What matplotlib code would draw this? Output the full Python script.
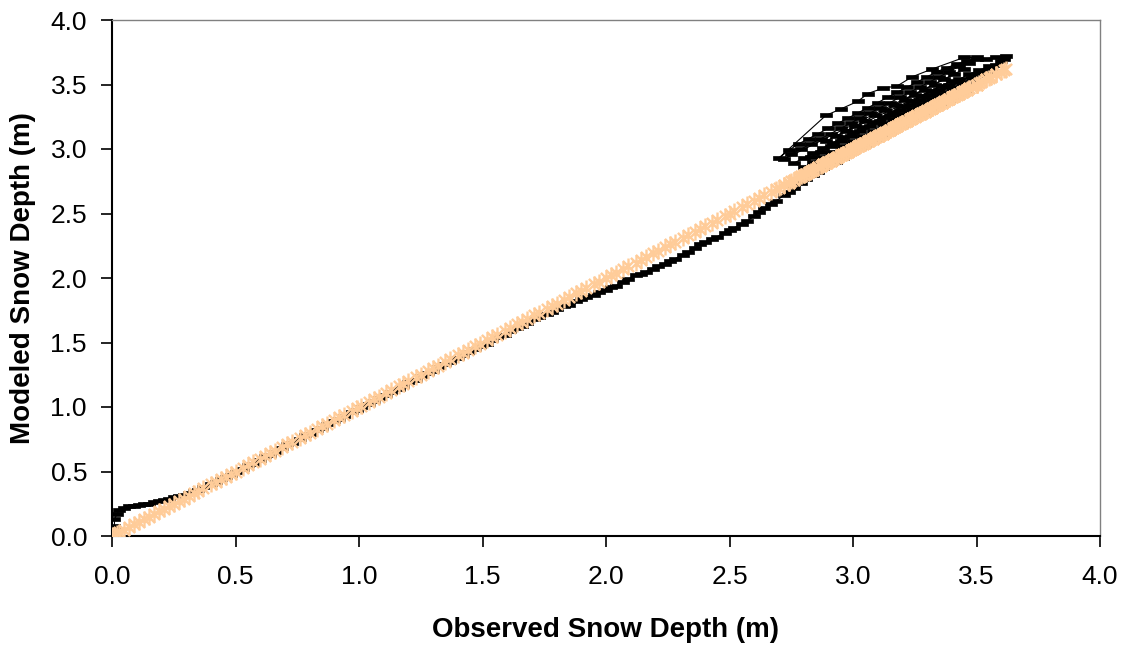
import matplotlib
matplotlib.use("Agg")
import matplotlib.pyplot as plt
from matplotlib.path import Path

plt.rcParams['font.family'] = ['Liberation Sans', 'DejaVu Sans']

# Observed snow depth (m) -- accumulation phase
obs_acc = [0.00, 0.01, 0.01, 0.02, 0.03, 0.05, 0.07, 0.09, 0.11, 0.13, 0.15, 0.17, 0.19, 0.21, 0.23,
           0.25, 0.27, 0.29, 0.31, 0.33, 0.35, 0.37, 0.40, 0.42, 0.44, 0.46, 0.48, 0.50, 0.53, 0.55,
           0.57, 0.60, 0.62, 0.64, 0.66, 0.69, 0.71, 0.73, 0.76, 0.78, 0.80, 0.83, 0.85, 0.87, 0.90,
           0.92, 0.94, 0.97, 0.99, 1.01, 1.04, 1.06, 1.08, 1.11, 1.13, 1.16, 1.18, 1.20, 1.23, 1.25,
           1.28, 1.30, 1.32, 1.35, 1.37, 1.40, 1.42, 1.44, 1.47, 1.49, 1.52, 1.54, 1.56, 1.59, 1.61,
           1.64, 1.66, 1.68, 1.71, 1.73, 1.76, 1.78, 1.80, 1.83, 1.85, 1.88, 1.90, 1.92, 1.95, 1.97,
           2.00, 2.02, 2.04, 2.07, 2.09, 2.12, 2.14, 2.16, 2.19, 2.21, 2.24, 2.26, 2.28, 2.31, 2.33,
           2.36, 2.38, 2.40, 2.43, 2.45, 2.48, 2.50, 2.52, 2.55, 2.57, 2.60, 2.62, 2.64, 2.67, 2.69,
           2.72, 2.74, 2.76, 2.79, 2.81, 2.84, 2.86, 2.88, 2.91, 2.93, 2.96, 2.98, 3.00, 3.03, 3.05,
           3.08, 3.10, 3.12, 3.15, 3.17, 3.20, 3.22, 3.24, 3.27, 3.29, 3.32, 3.34, 3.36, 3.39, 3.41,
           3.44, 3.46, 3.50, 3.54, 3.58, 3.61, 3.62]
# Modeled snow depth (m) -- accumulation phase
mod_acc = [0.02, 0.08, 0.13, 0.17, 0.20, 0.22, 0.23, 0.23, 0.24, 0.25, 0.25, 0.26, 0.27, 0.28, 0.29,
           0.30, 0.31, 0.32, 0.33, 0.35, 0.36, 0.38, 0.40, 0.42, 0.44, 0.46, 0.47, 0.50, 0.52, 0.55,
           0.56, 0.59, 0.62, 0.63, 0.65, 0.68, 0.71, 0.72, 0.75, 0.78, 0.79, 0.82, 0.84, 0.87, 0.89,
           0.91, 0.93, 0.96, 0.98, 1.00, 1.02, 1.05, 1.07, 1.09, 1.12, 1.14, 1.16, 1.19, 1.21, 1.24,
           1.26, 1.28, 1.31, 1.33, 1.35, 1.38, 1.40, 1.43, 1.45, 1.47, 1.49, 1.52, 1.54, 1.56, 1.59,
           1.61, 1.63, 1.65, 1.68, 1.70, 1.72, 1.74, 1.76, 1.78, 1.79, 1.82, 1.84, 1.85, 1.87, 1.89,
           1.91, 1.93, 1.94, 1.97, 1.99, 2.02, 2.03, 2.05, 2.07, 2.09, 2.11, 2.13, 2.15, 2.18, 2.20,
           2.23, 2.26, 2.28, 2.30, 2.32, 2.35, 2.37, 2.39, 2.42, 2.44, 2.48, 2.51, 2.54, 2.57, 2.60,
           2.64, 2.67, 2.70, 2.74, 2.77, 2.80, 2.82, 2.85, 2.88, 2.90, 2.93, 2.96, 2.98, 3.01, 3.03,
           3.06, 3.08, 3.11, 3.13, 3.16, 3.18, 3.21, 3.23, 3.26, 3.28, 3.31, 3.33, 3.35, 3.38, 3.40,
           3.43, 3.45, 3.52, 3.58, 3.65, 3.70, 3.72]

# Observed / modeled snow depth (m) -- settling & melt phase (upper cluster)
obs_melt = [3.58, 3.54, 3.50, 3.46, 3.42, 3.38, 3.34, 3.30, 3.26, 3.22, 3.18, 3.14, 3.10, 3.06,
            3.02, 2.98, 2.94, 2.90, 2.86, 2.82, 2.78, 2.74, 2.70,
            2.89, 2.95, 3.02, 3.06, 3.12, 3.18, 3.24, 3.32, 3.45, 3.50,
            3.47, 3.43, 3.39, 3.35, 3.31, 3.27, 3.23, 3.19, 3.15, 3.11, 3.07, 3.03, 2.99, 2.95,
            2.91, 2.87, 2.83, 2.79, 2.75, 2.72,
            3.45, 3.41, 3.37, 3.33, 3.29, 3.25, 3.21, 3.17, 3.13, 3.09, 3.05, 3.01, 2.97, 2.93, 2.89,
            3.40, 3.36, 3.32, 3.28, 3.24, 3.20, 3.16, 3.12, 3.08, 3.04, 3.00, 2.96, 2.92, 2.88, 2.84,
            2.80, 2.76,
            3.55, 3.51, 3.47, 3.43, 3.39, 3.35, 3.31, 3.27, 3.23, 3.19, 3.15, 3.11, 3.07, 3.03, 2.99,
            2.95, 2.91, 2.87, 2.83,
            3.60, 3.56, 3.52, 3.48, 3.44, 3.40, 3.36, 3.32, 3.28, 3.24, 3.20, 3.16, 3.12, 3.08, 3.04,
            3.00, 2.96, 2.92, 2.88, 2.84, 2.80]
mod_melt = [3.71, 3.70, 3.70, 3.68, 3.66, 3.63, 3.60, 3.56, 3.52, 3.48, 3.44, 3.40, 3.36, 3.32,
            3.28, 3.24, 3.20, 3.16, 3.12, 3.08, 3.04, 2.99, 2.93,
            3.26, 3.31, 3.37, 3.43, 3.47, 3.49, 3.56, 3.62, 3.71, 3.71,
            3.67, 3.64, 3.60, 3.56, 3.52, 3.48, 3.44, 3.40, 3.36, 3.32, 3.28, 3.24, 3.20, 3.16,
            3.12, 3.08, 3.04, 3.00, 2.96, 2.92,
            3.62, 3.58, 3.54, 3.50, 3.46, 3.42, 3.38, 3.34, 3.30, 3.26, 3.22, 3.18, 3.14, 3.10, 3.06,
            3.53, 3.49, 3.45, 3.41, 3.37, 3.33, 3.29, 3.25, 3.21, 3.17, 3.13, 3.09, 3.05, 3.01, 2.97,
            2.93, 2.89,
            3.64, 3.61, 3.58, 3.54, 3.50, 3.46, 3.42, 3.38, 3.34, 3.30, 3.26, 3.22, 3.18, 3.14, 3.10,
            3.06, 3.02, 2.98, 2.94,
            3.68, 3.63, 3.59, 3.55, 3.51, 3.47, 3.43, 3.39, 3.35, 3.31, 3.27, 3.23, 3.19, 3.14, 3.10,
            3.06, 3.02, 2.98, 2.94, 2.90, 2.86]

observed = obs_acc + obs_melt
modeled = mod_acc + mod_melt

x_ticks = [0.0, 0.5, 1.0, 1.5, 2.0, 2.5, 3.0, 3.5, 4.0]
y_ticks = [0.0, 0.5, 1.0, 1.5, 2.0, 2.5, 3.0, 3.5, 4.0]

fig = plt.figure(figsize=(11.31, 6.45), dpi=100)
ax = fig.add_axes([112/1131, 109/645, 988/1131, 516/645])

rect_marker = [(-1, -0.38), (1, -0.38), (1, 0.38), (-1, 0.38), (-1, -0.38)]
star_marker = Path([(0, -1), (0, 1), (-0.7, -0.7), (0.7, 0.7), (-0.7, 0.7), (0.7, -0.7)],
                   [Path.MOVETO, Path.LINETO, Path.MOVETO, Path.LINETO, Path.MOVETO, Path.LINETO])

ax.plot(observed, modeled, color='black', lw=0.8, marker=rect_marker, markersize=8,
        markerfacecolor='black', markeredgecolor='black', markeredgewidth=0.5, zorder=2)
ax.plot(observed, observed, linestyle='none', marker=star_marker, markersize=11.5,
        markeredgecolor='#FFCC99', markerfacecolor='none', markeredgewidth=1.7, zorder=3)

ax.set_xlim(0, 4)
ax.set_ylim(0, 4)
ax.set_xticks(x_ticks)
ax.set_yticks(y_ticks)
ax.set_xticklabels([f"{v:.1f}" for v in x_ticks])
ax.set_yticklabels([f"{v:.1f}" for v in y_ticks])
ax.tick_params(axis='both', direction='out', length=8, width=1.2, labelsize=19)
ax.tick_params(axis='x', pad=13)
ax.tick_params(axis='y', pad=10)

for s in ['left', 'bottom']:
    ax.spines[s].set_color('black')
    ax.spines[s].set_linewidth(1.5)
for s in ['top', 'right']:
    ax.spines[s].set_color('#808080')
    ax.spines[s].set_linewidth(1.0)

ax.set_xlabel('Observed Snow Depth (m)', fontsize=20, fontweight='bold', labelpad=20)
ax.set_ylabel('Modeled Snow Depth (m)', fontsize=20, fontweight='bold', labelpad=10)

fig.savefig('out.png', dpi=100)
